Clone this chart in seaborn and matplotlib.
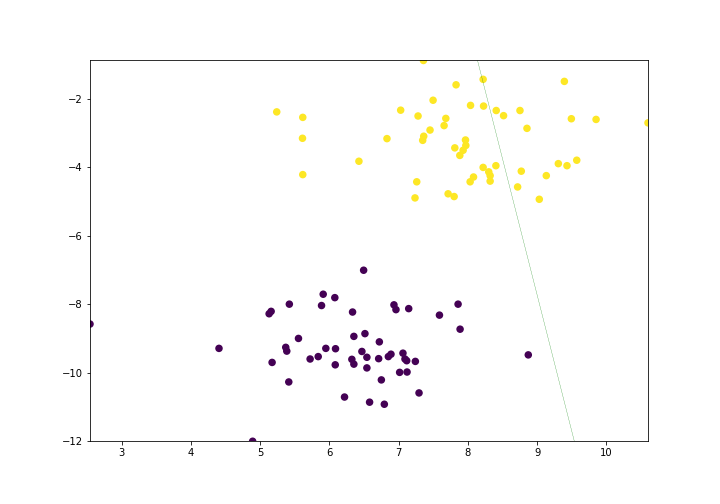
import matplotlib
matplotlib.use('Agg')
import matplotlib.pyplot as plt
import seaborn as sns
import pandas as pd

# cluster 0 (purple)
purple_x = [2.541, 4.404, 4.89, 5.128, 5.157, 5.42, 5.552, 5.368, 5.383, 5.171,
            5.412, 6.493, 5.909, 6.077, 5.885, 6.333, 6.931, 6.96, 7.144, 7.588,
            7.857, 7.886, 8.871, 6.352, 6.512, 6.72, 5.947, 6.087, 5.72, 5.837,
            6.468, 6.323, 6.352, 6.54, 6.71, 6.85, 6.888, 7.061, 7.09, 7.115,
            7.24, 6.083, 6.54, 7.013, 7.12, 6.749, 7.293, 6.217, 6.579, 6.792]
purple_y = [-8.58, -9.29, -12.0, -8.28, -8.21, -8.0, -9.0, -9.26, -9.37, -9.70,
            -10.27, -7.01, -7.71, -7.81, -8.04, -8.23, -8.02, -8.16, -8.13, -8.32,
            -8.00, -8.73, -9.48, -8.94, -8.86, -9.10, -9.29, -9.30, -9.60, -9.53,
            -9.38, -9.61, -9.75, -9.55, -9.59, -9.53, -9.46, -9.43, -9.60, -9.65,
            -9.67, -9.77, -9.86, -9.99, -9.98, -10.21, -10.59, -10.71, -10.86, -10.92]

# cluster 1 (yellow)
yellow_x = [5.238, 5.614, 5.61, 5.614, 6.425, 6.83, 7.028, 7.279, 7.357, 7.496,
            7.452, 7.361, 7.346, 7.68, 7.655, 7.26, 7.235, 7.713, 7.828, 8.219,
            9.392, 8.037, 8.225, 8.408, 8.514, 8.751, 8.852, 9.493, 9.85, 10.6,
            7.964, 7.969, 7.81, 7.93, 7.882, 8.219, 8.30, 8.32, 8.32, 8.403,
            8.08, 8.031, 7.80, 8.77, 8.717, 9.131, 9.305, 9.43, 9.571, 9.03]
yellow_y = [-2.39, -2.55, -3.16, -4.22, -3.83, -3.17, -2.34, -2.51, -0.89, -2.05,
            -2.92, -3.10, -3.22, -2.58, -2.79, -4.43, -4.90, -4.78, -1.60, -1.44,
            -1.50, -2.20, -2.22, -2.35, -2.50, -2.35, -2.87, -2.59, -2.61, -2.71,
            -3.21, -3.37, -3.44, -3.51, -3.66, -4.01, -4.14, -4.25, -4.41, -3.96,
            -4.29, -4.43, -4.86, -4.12, -4.58, -4.25, -3.90, -3.96, -3.80, -4.94]

# decision boundary end points
boundary_x = [8.138, 9.536]
boundary_y = [-0.89, -12.0]

df = pd.DataFrame({
    'x': purple_x + yellow_x,
    'y': purple_y + yellow_y,
    'label': [0] * len(purple_x) + [1] * len(yellow_x),
})

fig, ax = plt.subplots(figsize=(10, 7), dpi=72)
fig.subplots_adjust(left=0.125, right=0.9, top=0.88, bottom=0.1245)

sns.scatterplot(data=df, x='x', y='y', hue='label', palette=['#440154', '#fde725'],
                s=36, linewidth=1.5, edgecolor='face', legend=False, ax=ax)
ax.plot(boundary_x, boundary_y, color='g', linewidth=0.3, alpha=0.8)

ax.set_xlim(df['x'].min(), df['x'].max())
ax.set_ylim(df['y'].min(), df['y'].max())
ax.set_xlabel('')
ax.set_ylabel('')

plt.savefig('out.png', dpi=72)
plt.close()
